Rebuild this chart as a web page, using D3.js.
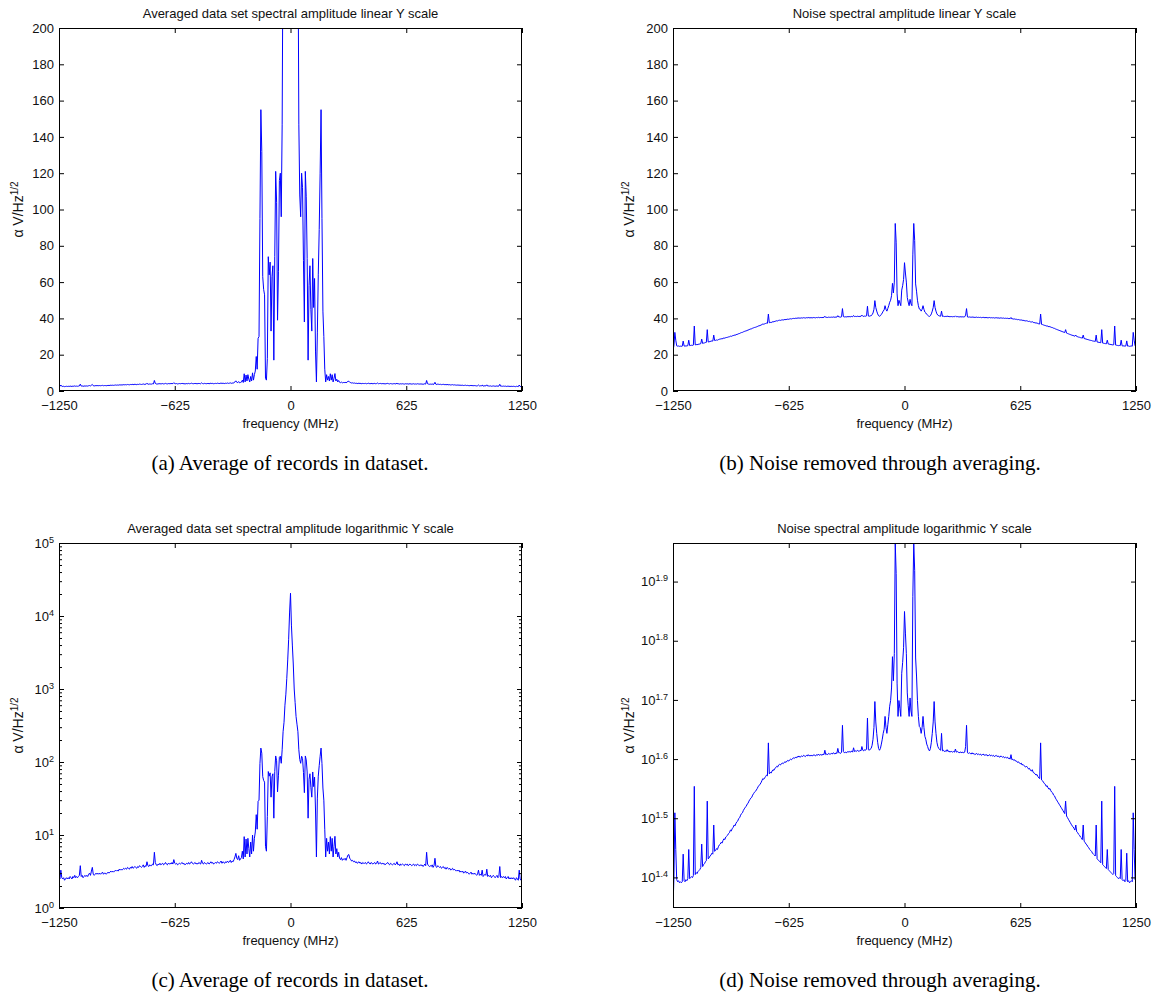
<!DOCTYPE html>
<html>
<head>
<meta charset="utf-8">
<script src="https://cdn.jsdelivr.net/npm/d3@7"></script>
<style>
  body { margin: 0; background: #fff; }
  svg text { font-family: "Liberation Sans", Arial, sans-serif; fill: #111; }
  svg text.caption { font-family: "Liberation Serif", "DejaVu Serif", serif; fill: #000; }
</style>
</head>
<body>
<svg id="fig" width="1162" height="996"></svg>
<script>
// Frequency grid of the spectra (MHz)
const freqStep = 5;
const freq = d3.range(-1250, 1250 + freqStep / 2, freqStep);

// Spectral amplitude of the averaged data set, one value per grid point
const avgAmp = [
  2.7, 2.5, 3.3, 2.6, 2.5, 2.6, 2.4, 2.5, 2.6, 2.5,
  2.6, 2.5, 2.7, 2.6, 2.5, 2.7, 2.6, 2.8, 2.6, 2.7,
  2.6, 2.7, 2.8, 3.8, 2.7, 2.8, 2.6, 2.7, 2.8, 2.7,
  2.8, 2.7, 2.9, 3.0, 2.8, 3.2, 3.6, 2.9, 2.8, 2.9,
  3.0, 2.9, 3.0, 2.9, 3.0, 2.9, 3.0, 3.1, 2.9, 3.0,
  3.0, 2.9, 3.0, 3.1, 3.0, 3.1, 3.2, 3.1, 3.2, 3.1,
  3.2, 3.3, 3.2, 3.3, 3.2, 3.4, 3.3, 3.4, 3.3, 3.4,
  3.5, 3.4, 3.5, 3.4, 3.6, 3.5, 3.4, 3.6, 3.5, 3.7,
  3.5, 3.6, 3.7, 3.6, 3.5, 3.7, 3.6, 3.8, 3.7, 3.6,
  3.7, 3.9, 3.6, 3.8, 3.7, 4.3, 3.8, 3.7, 3.9, 3.8,
  3.8, 4.0, 3.9, 5.8, 4.2, 3.9, 3.8, 4.0, 3.9, 4.1,
  3.9, 4.0, 4.1, 3.9, 4.0, 4.2, 4.0, 3.9, 4.1, 4.0,
  4.1, 4.0, 4.2, 4.0, 4.6, 4.1, 4.0, 4.1, 3.9, 4.0,
  4.1, 4.0, 4.1, 4.2, 4.0, 4.1, 3.9, 4.0, 4.1, 4.0,
  4.2, 4.0, 4.1, 4.3, 4.1, 4.0, 4.1, 4.2, 4.0, 4.1,
  4.0, 4.2, 4.1, 4.0, 4.5, 4.1, 4.0, 4.2, 4.1, 4.0,
  4.1, 4.2, 4.0, 4.1, 4.3, 4.1, 4.2, 4.0, 4.1, 4.2,
  4.1, 4.3, 4.2, 4.1, 4.2, 4.4, 4.1, 4.3, 4.2, 4.1,
  4.3, 4.2, 4.4, 4.2, 4.3, 4.5, 4.2, 4.4, 4.3, 4.6,
  5.0, 5.6, 4.8, 4.6, 5.2, 4.5, 4.7, 4.9, 6.0, 4.7,
  9.5, 5.0, 8.8, 5.5, 9.0, 6.5, 5.0, 8.0, 5.5, 10.0,
  6, 9, 11, 19, 12, 29, 30, 95, 155, 132,
  63, 56, 53, 7, 6, 18, 74, 64, 71, 33,
  63, 69, 17, 74, 121, 104, 39, 66, 116, 120,
  96, 147, 260, 350, 600, 850, 1400, 2500, 4800, 11000,
  20500,
  7500, 4000, 2200, 1000, 650, 420, 330, 260, 147, 108,
  96, 120, 112, 72, 38, 121, 107, 73, 17, 58,
  69, 45, 33, 73, 46, 62, 22, 5, 32, 64,
  89, 120, 155, 95, 44, 30, 12, 5, 9, 6,
  8, 5.5, 9.5, 6, 9, 5, 7, 9.6, 5.5, 6.5,
  5.0, 5.8, 4.8, 4.6, 4.9, 4.5, 4.7, 4.6, 4.8, 4.5,
  4.9, 5.3, 5.4, 4.8, 4.6, 4.4, 4.5, 4.3, 4.4, 4.2,
  4.3, 4.1, 4.2, 4.3, 4.1, 4.2, 4.0, 4.2, 4.1, 4.1,
  4.2, 4.0, 4.1, 4.3, 4.1, 4.0, 4.2, 4.1, 4.0, 4.1,
  4.2, 4.0, 4.1, 4.4, 4.0, 4.1, 4.2, 4.0, 4.1, 4.0,
  4.1, 3.9, 4.0, 4.1, 4.2, 4.0, 3.9, 4.1, 4.0, 3.9,
  4.0, 4.1, 3.9, 4.0, 4.3, 3.9, 4.0, 3.8, 4.0, 3.9,
  4.0, 3.9, 3.8, 4.0, 3.9, 4.0, 3.8, 3.9, 4.0, 3.9,
  3.8, 3.9, 4.0, 3.8, 3.9, 3.8, 4.0, 3.9, 3.8, 3.9,
  3.8, 3.9, 3.7, 3.8, 4.0, 3.8, 5.8, 4.0, 3.8, 3.7,
  3.8, 3.7, 3.9, 3.6, 3.8, 4.8, 3.7, 3.6, 3.8, 3.7,
  3.6, 3.7, 3.5, 3.6, 3.7, 3.5, 3.6, 3.4, 3.6, 3.5,
  3.4, 3.5, 3.3, 3.4, 3.5, 3.3, 3.4, 3.3, 3.2, 3.3,
  3.2, 3.3, 3.1, 3.2, 3.1, 3.2, 3.0, 3.1, 3.2, 3.0,
  3.1, 3.0, 2.9, 3.0, 3.1, 2.9, 3.0, 2.9, 3.0, 2.9,
  2.8, 2.9, 3.3, 2.8, 2.9, 2.8, 3.3, 2.7, 2.8, 2.9,
  2.8, 3.4, 2.7, 2.8, 2.7, 2.8, 2.6, 2.7, 2.8, 2.7,
  2.6, 2.7, 2.8, 2.6, 2.7, 3.7, 2.6, 2.7, 2.6, 2.7,
  2.6, 2.7, 2.5, 2.6, 2.7, 2.5, 2.6, 2.5, 2.6, 2.5,
  2.6, 2.5, 2.4, 2.6, 2.5, 2.4, 3.3, 2.5, 2.4, 2.7
];

// Spectral amplitude of the noise removed by averaging, same grid
const noiseAmp = [
  22.3, 25.1, 32.3, 28.0, 24.9, 24.7, 24.8, 24.6, 24.7, 24.6,
  24.7, 27.5, 24.8, 24.7, 24.9, 24.8, 25.0, 28.0, 25.0, 25.1,
  25.2, 25.1, 25.3, 35.8, 25.4, 25.6, 25.5, 25.7, 25.8, 25.9,
  26.1, 28.6, 26.2, 26.4, 26.5, 26.7, 26.8, 33.8, 27.0, 27.1,
  27.3, 27.4, 27.6, 27.5, 30.8, 27.8, 27.9, 28.1, 28.0, 28.3,
  28.5, 28.6, 28.8, 28.7, 29.0, 29.2, 29.1, 29.4, 29.5, 29.6,
  29.8, 29.9, 30.2, 30.1, 30.4, 30.5, 30.8, 30.7, 31.0, 31.2,
  31.3, 31.6, 31.7, 32.0, 32.2, 32.3, 32.6, 32.8, 33.0, 33.1,
  33.4, 33.5, 33.8, 34.0, 34.2, 34.3, 34.6, 34.8, 35.0, 35.1,
  35.3, 35.5, 35.8, 35.9, 36.1, 36.3, 36.6, 36.9, 36.8, 37.0,
  37.2, 37.4, 37.3, 42.4, 37.6, 37.8, 37.7, 38.0, 38.2, 38.1,
  38.4, 38.5, 38.7, 38.6, 38.9, 39.0, 38.9, 39.1, 39.2, 39.1,
  39.3, 39.4, 39.3, 39.5, 39.6, 39.5, 39.7, 39.8, 39.7, 39.9,
  40.0, 39.9, 40.1, 40.0, 40.2, 40.1, 40.3, 40.1, 40.2, 40.3,
  40.2, 40.4, 40.3, 40.2, 40.4, 40.3, 40.5, 40.3, 40.4, 40.3,
  40.4, 40.3, 40.5, 40.4, 40.3, 40.5, 40.4, 40.6, 40.4, 40.5,
  40.5, 40.4, 40.6, 40.5, 41.2, 40.5, 40.6, 40.5, 40.7, 40.6,
  40.6, 40.7, 40.6, 40.8, 40.7, 40.6, 40.8, 40.7, 41.5, 40.8,
  40.8, 40.7, 40.9, 45.4, 41.0, 40.8, 40.9, 40.8, 40.9, 41.0,
  40.9, 41.0, 40.9, 41.1, 40.9, 41.6, 41.0, 41.1, 41.0, 41.2,
  41.1, 41.0, 41.2, 41.1, 41.8, 41.2, 41.1, 41.3, 41.2, 41.4,
  46.7, 41.3, 41.2, 41.4, 41.5, 42.0, 43.0, 45.0, 49.8, 46.0,
  44.0, 42.5, 41.5, 41.2, 41.5, 42.2, 43.0, 44.0, 44.7, 47.0,
  45.0, 44.0, 45.5, 47.0, 48.9, 50.0, 52.5, 59.3, 54.0, 60.0,
  92.3, 82.0, 53.5, 47.0, 50.0, 48.5, 47.0, 55.6, 58.0, 61.4,
  70.7,
  65.0, 60.0, 51.5, 49.0, 47.0, 50.5, 48.0, 47.0, 75.0, 92.3,
  83.0, 59.0, 55.0, 50.0, 47.0, 45.2, 45.0, 44.0, 45.0, 47.0,
  45.0, 43.5, 43.0, 42.2, 41.8, 41.3, 41.1, 41.5, 42.5, 44.0,
  46.0, 49.8, 46.0, 44.0, 42.5, 41.8, 41.5, 41.3, 41.2, 44.0,
  41.1, 41.2, 41.0, 41.1, 41.0, 41.3, 41.0, 41.1, 40.9, 41.0,
  41.0, 40.9, 41.0, 40.9, 41.4, 40.9, 41.0, 40.9, 40.8, 40.9,
  40.9, 40.8, 40.9, 40.8, 40.9, 41.8, 45.4, 40.8, 40.7, 40.8,
  40.7, 40.6, 40.8, 40.6, 40.7, 40.5, 40.6, 40.7, 40.5, 40.6,
  40.5, 40.6, 40.4, 40.5, 40.6, 40.4, 40.5, 40.4, 40.5, 40.3,
  40.4, 40.5, 40.3, 40.4, 40.3, 40.4, 40.2, 40.3, 40.4, 40.2,
  40.3, 40.2, 40.1, 40.3, 40.2, 40.1, 40.2, 40.0, 40.1, 40.0,
  40.1, 39.9, 40.0, 39.8, 40.5, 39.7, 39.8, 39.6, 39.7, 39.5,
  39.5, 39.3, 39.4, 39.2, 39.1, 39.2, 38.9, 39.0, 38.8, 38.7,
  38.6, 38.7, 38.5, 38.3, 38.4, 38.1, 38.0, 38.2, 37.8, 37.7,
  37.6, 37.4, 37.5, 37.2, 37.0, 36.9, 42.4, 36.7, 36.6, 36.4,
  36.2, 36.1, 35.8, 35.9, 35.6, 35.4, 35.5, 35.2, 35.0, 34.9,
  34.6, 34.5, 34.2, 34.0, 33.8, 33.6, 33.4, 33.2, 33.0, 32.8,
  32.6, 32.4, 32.2, 33.8, 31.9, 31.7, 31.5, 31.3, 31.1, 30.9,
  30.7, 30.6, 30.4, 30.2, 30.8, 30.0, 29.9, 29.7, 29.6, 29.4,
  29.3, 29.1, 30.8, 28.9, 28.8, 28.6, 28.5, 28.3, 28.2, 28.0,
  27.9, 27.8, 27.6, 27.5, 27.4, 27.3, 30.8, 27.0, 26.9, 26.8,
  26.7, 26.6, 33.8, 26.4, 26.3, 26.2, 26.1, 26.0, 28.0, 25.9,
  25.8, 25.7, 25.6, 25.5, 25.4, 25.5, 35.8, 25.3, 25.2, 25.1,
  25.0, 25.1, 25.0, 28.0, 24.9, 24.8, 24.9, 24.7, 24.8, 27.6,
  24.7, 24.8, 24.6, 24.7, 24.8, 24.7, 32.3, 28.0, 24.9, 25.0
];

// Axis ticks
const freqTicks = [-1250, -625, 0, 625, 1250];
const linearTicks = [0, 20, 40, 60, 80, 100, 120, 140, 160, 180, 200];
const decadeExponents = [0, 1, 2, 3, 4, 5];
const noiseExponents = [1.4, 1.5, 1.6, 1.7, 1.8, 1.9];

// Texts
const plotTitles = [
  "Averaged data set spectral amplitude linear Y scale",
  "Noise spectral amplitude linear Y scale",
  "Averaged data set spectral amplitude logarithmic Y scale",
  "Noise spectral amplitude logarithmic Y scale"
];
const captions = [
  "(a) Average of records in dataset.",
  "(b) Noise removed through averaging.",
  "(c) Average of records in dataset.",
  "(d) Noise removed through averaging."
];
const xLabel = "frequency (MHz)";

const svg = d3.select("#fig");
const defs = svg.append("defs");

function supLabel(sel, base, exp) {
  sel.text(null);
  sel.append("tspan").text(base);
  sel.append("tspan").attr("dy", "-0.55em").attr("font-size", "9px").text(exp);
}

function drawPanel(cfg, idx) {
  const { l, r, t, b } = cfg.box;
  const x = d3.scaleLinear().domain([-1250, 1250]).range([l, r]);
  const y = cfg.y.range([b, t]);
  const g = svg.append("g");

  const clipId = "clip" + idx;
  defs.append("clipPath").attr("id", clipId)
    .append("rect").attr("x", l).attr("y", t).attr("width", r - l).attr("height", b - t);

  // spectrum trace
  g.append("path")
    .datum(cfg.values)
    .attr("clip-path", `url(#${clipId})`)
    .attr("fill", "none")
    .attr("stroke", "#0000ff")
    .attr("stroke-width", 1)
    .attr("stroke-linejoin", "round")
    .attr("d", d3.line().x((d, i) => x(freq[i])).y(d => y(d)));

  const tickFont = s => s.selectAll("text").attr("font-size", "13px").attr("fill", "#111");
  const clean = s => { s.select(".domain").remove(); s.selectAll("line").attr("stroke", "#000"); };

  // x axes, bottom labelled, top ticks only
  g.append("g").attr("transform", `translate(0,${b})`)
    .call(d3.axisBottom(x).tickValues(freqTicks).tickSize(-5).tickSizeOuter(0).tickPadding(10).tickFormat(d3.format("d")))
    .call(clean).call(tickFont);
  g.append("g").attr("transform", `translate(0,${t})`)
    .call(d3.axisTop(x).tickValues(freqTicks).tickSize(-5).tickSizeOuter(0).tickFormat(""))
    .call(clean);

  // y axes: major ticks left (labelled) and right, optional minor ticks
  const left = g.append("g").attr("transform", `translate(${l},0)`)
    .call(d3.axisLeft(y).tickValues(cfg.ticks).tickSize(-5).tickSizeOuter(0).tickPadding(5).tickFormat(cfg.fmt || d3.format("d")))
    .call(clean).call(tickFont);
  g.append("g").attr("transform", `translate(${r},0)`)
    .call(d3.axisRight(y).tickValues(cfg.ticks).tickSize(-5).tickSizeOuter(0).tickFormat(""))
    .call(clean);
  if (cfg.sup) left.selectAll(".tick text").each(function (d) { supLabel(d3.select(this), "10", cfg.sup(d)); });
  if (cfg.minor) {
    g.append("g").attr("transform", `translate(${l},0)`)
      .call(d3.axisLeft(y).tickValues(cfg.minor).tickSize(-3).tickSizeOuter(0).tickFormat("")).call(clean);
    g.append("g").attr("transform", `translate(${r},0)`)
      .call(d3.axisRight(y).tickValues(cfg.minor).tickSize(-3).tickSizeOuter(0).tickFormat("")).call(clean);
  }

  // plot box
  g.append("rect").attr("x", l + 0.5).attr("y", t + 0.5).attr("width", r - l - 1).attr("height", b - t - 1)
    .attr("fill", "none").attr("stroke", "#000").attr("stroke-width", 1);

  // title and axis labels
  g.append("text").attr("x", (l + r) / 2).attr("y", t - 10).attr("text-anchor", "middle")
    .attr("font-size", "13px").text(plotTitles[idx]);
  g.append("text").attr("x", (l + r) / 2).attr("y", b + 37).attr("text-anchor", "middle")
    .attr("font-size", "13px").text(xLabel);
  const yl = g.append("text").attr("transform", `translate(${cfg.ylabX},${(t + b) / 2}) rotate(-90)`)
    .attr("text-anchor", "middle").attr("font-size", "14px");
  yl.append("tspan").text("\u03b1  V/Hz");
  yl.append("tspan").attr("dy", "-0.5em").attr("font-size", "10px").text("1/2");

  // caption below the figure
  svg.append("text").attr("class", "caption").attr("x", cfg.capX).attr("y", b + 79)
    .attr("text-anchor", "middle").attr("font-size", "21px").text(captions[idx]);
}

const minorDecades = [];
for (let e = 0; e < 5; e++) for (let m = 2; m <= 9; m++) minorDecades.push(m * Math.pow(10, e));

const panels = [
  { box: { l: 59, r: 522, t: 28, b: 391 }, values: avgAmp, y: d3.scaleLinear().domain([0, 200]),
    ticks: linearTicks, ylabX: 23, capX: 290 },
  { box: { l: 673, r: 1136, t: 28, b: 391 }, values: noiseAmp, y: d3.scaleLinear().domain([0, 200]),
    ticks: linearTicks, ylabX: 634, capX: 880 },
  { box: { l: 59, r: 522, t: 543, b: 908 }, values: avgAmp, y: d3.scaleLog().domain([1, 1e5]),
    ticks: decadeExponents.map(e => Math.pow(10, e)), sup: d => String(Math.round(Math.log10(d))),
    minor: minorDecades, ylabX: 23, capX: 290 },
  { box: { l: 673, r: 1136, t: 543, b: 908 }, values: noiseAmp, y: d3.scaleLog().domain(d3.extent(noiseAmp)),
    ticks: noiseExponents.map(e => Math.pow(10, e)), sup: d => d3.format(".1f")(Math.log10(d)),
    ylabX: 634, capX: 880 }
];

panels.forEach(drawPanel);
</script>
</body>
</html>
